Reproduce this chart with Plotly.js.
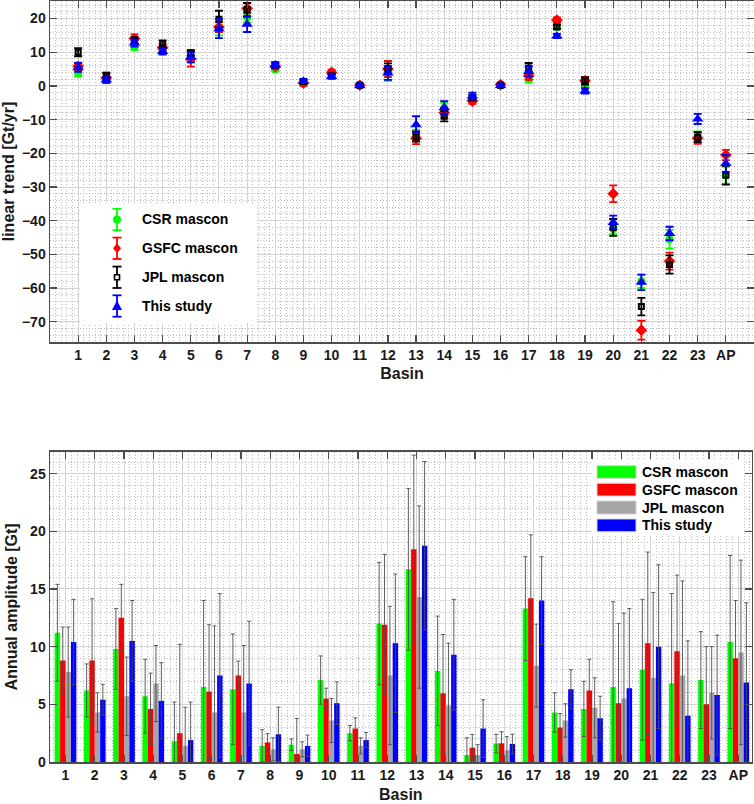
<!DOCTYPE html>
<html>
<head>
<meta charset="utf-8">
<script src="https://cdn.plot.ly/plotly-3.0.1.min.js"></script>
<style>
html,body{margin:0;padding:0;background:#fff;}
#chart{width:754px;height:804px;}
</style>
</head>
<body>
<div id="chart"></div>
<script>
// ---------------- data ----------------
const basins = ['1','2','3','4','5','6','7','8','9','10','11','12','13','14','15','16','17','18','19','20','21','22','23','AP'];
const seriesNames = ['CSR mascon','GSFC mascon','JPL mascon','This study'];

// linear trend [Gt/yr] and uncertainty
const csrTrend  = [3.8, 2.2, 11.5, 10.5, 8.0, 17.0, 20.3, 4.9, 1.2, 3.0, 0.3, 3.5, -14.5, -6.5, -3.5, 0.2, 2.0, 17.5, 0.0, -42.5, -58.0, -45.5, -15.0, -26.5];
const csrTrendErr  = [1.0, 0.7, 0.8, 0.8, 1.0, 2.0, 1.5, 0.6, 0.5, 0.6, 0.4, 2.0, 1.5, 1.5, 1.0, 0.4, 1.0, 0.6, 1.0, 1.5, 2.0, 2.8, 1.5, 2.5];
const gsfcTrend = [5.8, 2.4, 14.0, 11.3, 8.0, 17.5, 23.0, 5.8, 0.8, 4.0, 0.2, 5.0, -15.5, -8.0, -4.5, 0.4, 3.0, 19.5, 1.5, -32.0, -72.5, -52.0, -15.5, -20.5];
const gsfcTrendErr = [1.1, 1.6, 1.3, 1.0, 2.3, 1.5, 1.5, 0.8, 0.8, 0.8, 0.5, 2.4, 1.8, 1.5, 0.8, 0.5, 1.2, 0.8, 1.2, 2.5, 2.8, 2.5, 1.7, 1.5];
const jplTrend  = [10.0, 3.0, 13.5, 12.5, 9.8, 19.8, 22.6, 6.2, 1.3, 3.0, 0.2, 5.2, -15.0, -9.0, -3.5, 0.2, 5.3, 17.5, 1.5, -42.0, -65.5, -53.0, -15.2, -26.5];
const jplTrendErr  = [1.2, 0.8, 1.0, 1.0, 0.8, 2.5, 2.0, 0.8, 0.5, 0.6, 0.4, 1.5, 1.5, 1.5, 0.8, 0.4, 1.5, 0.6, 1.0, 2.5, 2.6, 2.7, 1.5, 2.8];
const thisTrend = [5.5, 1.8, 12.7, 10.2, 8.5, 17.0, 18.3, 6.2, 1.4, 2.8, 0.1, 3.8, -11.5, -6.5, -3.0, 0.1, 4.3, 14.8, -1.5, -40.5, -58.3, -43.8, -9.8, -23.0];
const thisTrendErr = [1.3, 0.8, 1.0, 0.9, 1.5, 2.8, 2.3, 0.8, 0.6, 0.7, 0.5, 2.0, 2.5, 2.0, 1.0, 0.5, 1.5, 0.6, 0.8, 2.0, 2.3, 2.0, 1.5, 2.5];

// annual amplitude [Gt] and uncertainty
const csrAmp     = [11.2, 6.2, 9.8, 5.7, 1.8, 6.5, 6.3, 1.4, 1.5, 7.1, 2.5, 12.0, 16.7, 7.9, 0.6, 1.6, 13.3, 4.3, 4.6, 6.5, 8.0, 6.8, 7.1, 10.4];
const csrAmpErr  = [4.2, 2.3, 3.5, 3.2, 3.4, 7.5, 4.8, 1.4, 0.5, 2.1, 0.66, 5.3, 7.0, 4.75, 1.5, 0.8, 4.5, 1.7, 2.4, 7.4, 6.1, 7.8, 4.2, 7.5];
const gsfcAmp    = [8.8, 8.8, 12.5, 4.6, 2.5, 6.1, 7.5, 1.7, 0.7, 5.5, 2.9, 11.9, 18.45, 5.95, 1.24, 1.62, 14.2, 3.0, 6.2, 5.1, 10.3, 9.6, 5.0, 9.0];
const gsfcAmpErr = [2.9, 5.35, 2.9, 3.1, 7.7, 5.8, 1.25, 0.75, 3.07, 0.9, 0.93, 6.1, 8.15, 5.1, 1.15, 1.0, 5.5, 1.2, 2.7, 6.9, 7.9, 6.6, 5.0, 5.0];
const jplAmp     = [7.8, 4.3, 5.7, 6.8, 1.4, 4.3, 4.3, 1.1, 1.1, 3.6, 1.4, 7.5, 14.3, 4.9, 0.6, 1.0, 8.35, 3.6, 4.7, 5.5, 7.3, 7.5, 6.0, 9.5];
const jplAmpErr  = [3.9, 1.7, 3.4, 3.3, 3.35, 7.5, 5.8, 1.0, 0.65, 1.9, 0.7, 6.0, 7.9, 5.4, 0.9, 1.2, 3.6, 1.45, 2.6, 7.4, 7.4, 8.2, 4.0, 8.0];
const thisAmp    = [10.4, 5.4, 10.5, 5.3, 1.9, 7.5, 6.8, 2.4, 1.4, 5.1, 1.9, 10.3, 18.75, 9.3, 2.9, 1.56, 14.0, 6.3, 3.8, 6.4, 10.0, 4.0, 5.8, 6.9];
const thisAmpErr = [3.7, 1.33, 3.5, 3.3, 3.3, 7.1, 5.4, 2.35, 0.93, 1.85, 0.66, 6.0, 7.3, 4.8, 2.5, 0.85, 3.8, 1.7, 1.9, 6.9, 7.1, 6.5, 5.2, 6.9];

// ---------------- styles ----------------
const W = 754, H = 804;
const FONT = 'Liberation Sans, Arial, Helvetica, sans-serif';
const pointColors = ['#00ff00', '#ff0000', '#000000', '#0000ff'];
const barColors = ['#00ff00', '#ff0000', '#a6a6a6', '#0000ff'];
const xpos = basins.map((b, i) => i + 1);

const trendVals = [csrTrend, gsfcTrend, jplTrend, thisTrend];
const trendErrs = [csrTrendErr, gsfcTrendErr, jplTrendErr, thisTrendErr];
const ampVals = [csrAmp, gsfcAmp, jplAmp, thisAmp];
const ampErrs = [csrAmpErr, gsfcAmpErr, jplAmpErr, thisAmpErr];

const markerStyles = [
  {symbol: 'circle', size: 8, color: '#00ff00', line: {width: 0}},
  {symbol: 'diamond', size: 9, color: '#ff0000', line: {width: 0}},
  {symbol: 'square-open', size: 5, color: '#000000', line: {width: 2, color: '#000000'}},
  {symbol: 'triangle-up', size: 10, color: '#0000ff', line: {width: 0}}
];

const traces = [];
for (let s = 0; s < 4; s++) {
  traces.push({
    type: 'scatter', mode: 'markers', name: seriesNames[s],
    x: xpos, y: trendVals[s], xaxis: 'x', yaxis: 'y',
    marker: markerStyles[s],
    error_y: {type: 'data', array: trendErrs[s], visible: true, color: pointColors[s], thickness: 1.8, width: 4},
    hoverinfo: 'skip'
  });
}
for (let s = 0; s < 4; s++) {
  traces.push({
    type: 'bar', name: seriesNames[s],
    x: xpos, y: ampVals[s], xaxis: 'x2', yaxis: 'y2',
    marker: {color: barColors[s], line: {width: 0}},
    error_y: {type: 'data', array: ampErrs[s], visible: true, color: '#4d4d4d', thickness: 0.9, width: 2},
    hoverinfo: 'skip'
  });
}

const axisCommon = {
  showline: true, linecolor: '#4d4d4d', linewidth: 1.5, mirror: 'ticks',
  ticks: 'inside', ticklen: 7, tickwidth: 1.2, tickcolor: '#4d4d4d',
  showgrid: true, gridcolor: '#d4d4d4', gridwidth: 1, zeroline: false,
  tickfont: {family: FONT, size: 14, color: '#1a1a1a', weight: 'bold'}
};
const minorCommon = {showgrid: true, gridcolor: '#bdbdbd', griddash: '1px,2px', gridwidth: 1, ticklen: 0};
const titleFont = {family: FONT, size: 16, color: '#1a1a1a', weight: 'bold'};

// helpers for legend (paper coordinates from pixels)
const px = v => v / W, py = v => 1 - v / H;
const shapes = [], annotations = [];

// top legend
shapes.push({type: 'rect', xref: 'paper', yref: 'paper', x0: px(80), x1: px(257), y0: py(323), y1: py(203), fillcolor: '#ffffff', line: {width: 0}, layer: 'above'});
const topRows = [219.5, 248.3, 277.3, 306];
const gx = 117;
topRows.forEach((cy, s) => {
  const c = pointColors[s];
  shapes.push({type: 'line', xref: 'paper', yref: 'paper', x0: px(gx), x1: px(gx), y0: py(cy - 10.7), y1: py(cy + 10.7), line: {color: c, width: 1.8}});
  shapes.push({type: 'line', xref: 'paper', yref: 'paper', x0: px(gx - 4.5), x1: px(gx + 4.5), y0: py(cy - 10.7), y1: py(cy - 10.7), line: {color: c, width: 1.8}});
  shapes.push({type: 'line', xref: 'paper', yref: 'paper', x0: px(gx - 4.5), x1: px(gx + 4.5), y0: py(cy + 10.7), y1: py(cy + 10.7), line: {color: c, width: 1.8}});
  let path;
  if (s === 0) {
    shapes.push({type: 'circle', xref: 'paper', yref: 'paper', x0: px(gx - 4), x1: px(gx + 4), y0: py(cy + 4), y1: py(cy - 4), fillcolor: c, line: {width: 0}});
  } else if (s === 1) {
    path = `M ${px(gx)} ${py(cy - 5)} L ${px(gx + 4)} ${py(cy)} L ${px(gx)} ${py(cy + 5)} L ${px(gx - 4)} ${py(cy)} Z`;
    shapes.push({type: 'path', xref: 'paper', yref: 'paper', path: path, fillcolor: c, line: {width: 0}});
  } else if (s === 2) {
    shapes.push({type: 'rect', xref: 'paper', yref: 'paper', x0: px(gx - 2.5), x1: px(gx + 2.5), y0: py(cy + 2.5), y1: py(cy - 2.5), fillcolor: '#ffffff', line: {color: c, width: 1.6}});
  } else {
    path = `M ${px(gx)} ${py(cy - 5.5)} L ${px(gx + 5)} ${py(cy + 4)} L ${px(gx - 5)} ${py(cy + 4)} Z`;
    shapes.push({type: 'path', xref: 'paper', yref: 'paper', path: path, fillcolor: c, line: {width: 0}});
  }
  annotations.push({xref: 'paper', yref: 'paper', x: px(140), y: py(cy), xanchor: 'left', yanchor: 'middle', showarrow: false, text: seriesNames[s], font: {family: FONT, size: 14, color: '#000000', weight: 'bold'}});
});

// bottom legend
shapes.push({type: 'rect', xref: 'paper', yref: 'paper', x0: px(592), x1: px(744), y0: py(536), y1: py(460), fillcolor: '#ffffff', line: {width: 0}, layer: 'above'});
const botRows = [[465.7, 478.3], [483.3, 496], [501, 514], [519, 531.7]];
botRows.forEach((r, s) => {
  shapes.push({type: 'rect', xref: 'paper', yref: 'paper', x0: px(597), x1: px(636), y0: py(r[1]), y1: py(r[0]), fillcolor: barColors[s], line: {color: '#d0d0d0', width: 1}});
  annotations.push({xref: 'paper', yref: 'paper', x: px(639.5), y: py((r[0] + r[1]) / 2), xanchor: 'left', yanchor: 'middle', showarrow: false, text: seriesNames[s], font: {family: FONT, size: 14, color: '#000000', weight: 'bold'}});
});

const layout = {
  width: W, height: H,
  margin: {l: 0, r: 0, t: 0, b: 0},
  paper_bgcolor: '#ffffff', plot_bgcolor: '#ffffff',
  font: {family: FONT, size: 14, color: '#1a1a1a', weight: 'bold'},
  showlegend: false,
  barmode: 'group', bargap: 0.26, bargroupgap: 0,
  xaxis: Object.assign({}, axisCommon, {
    domain: [px(50), 1], range: [0, 25], anchor: 'y',
    tickmode: 'array', tickvals: xpos, ticktext: basins,
    minor: Object.assign({tickmode: 'linear', tick0: 0, dtick: 0.2}, minorCommon),
    title: {text: 'Basin', font: titleFont, standoff: 5}
  }),
  yaxis: Object.assign({}, axisCommon, {
    domain: [py(342), py(1)], range: [-76, 25.2], anchor: 'x',
    tickmode: 'linear', tick0: 0, dtick: 10,
    minor: Object.assign({tickmode: 'linear', tick0: 0, dtick: 2}, minorCommon),
    title: {text: 'linear trend [Gt/yr]', font: titleFont, standoff: 8}
  }),
  xaxis2: Object.assign({}, axisCommon, {
    domain: [px(50), px(751.7)], range: [0.47, 24.46], anchor: 'y2',
    tickmode: 'array', tickvals: xpos, ticktext: basins,
    minor: Object.assign({tickmode: 'linear', tick0: 0, dtick: 0.2}, minorCommon),
    title: {text: 'Basin', font: titleFont, standoff: 6}
  }),
  yaxis2: Object.assign({}, axisCommon, {
    domain: [py(762), py(451.7)], range: [0, 26.9], anchor: 'x2',
    tickmode: 'linear', tick0: 0, dtick: 5,
    minor: Object.assign({tickmode: 'linear', tick0: 0, dtick: 1}, minorCommon),
    title: {text: 'Annual amplitude [Gt]', font: titleFont, standoff: 8}
  }),
  shapes: shapes,
  annotations: annotations
};

Plotly.newPlot('chart', traces, layout, {staticPlot: true, displayModeBar: false});
</script>
</body>
</html>
